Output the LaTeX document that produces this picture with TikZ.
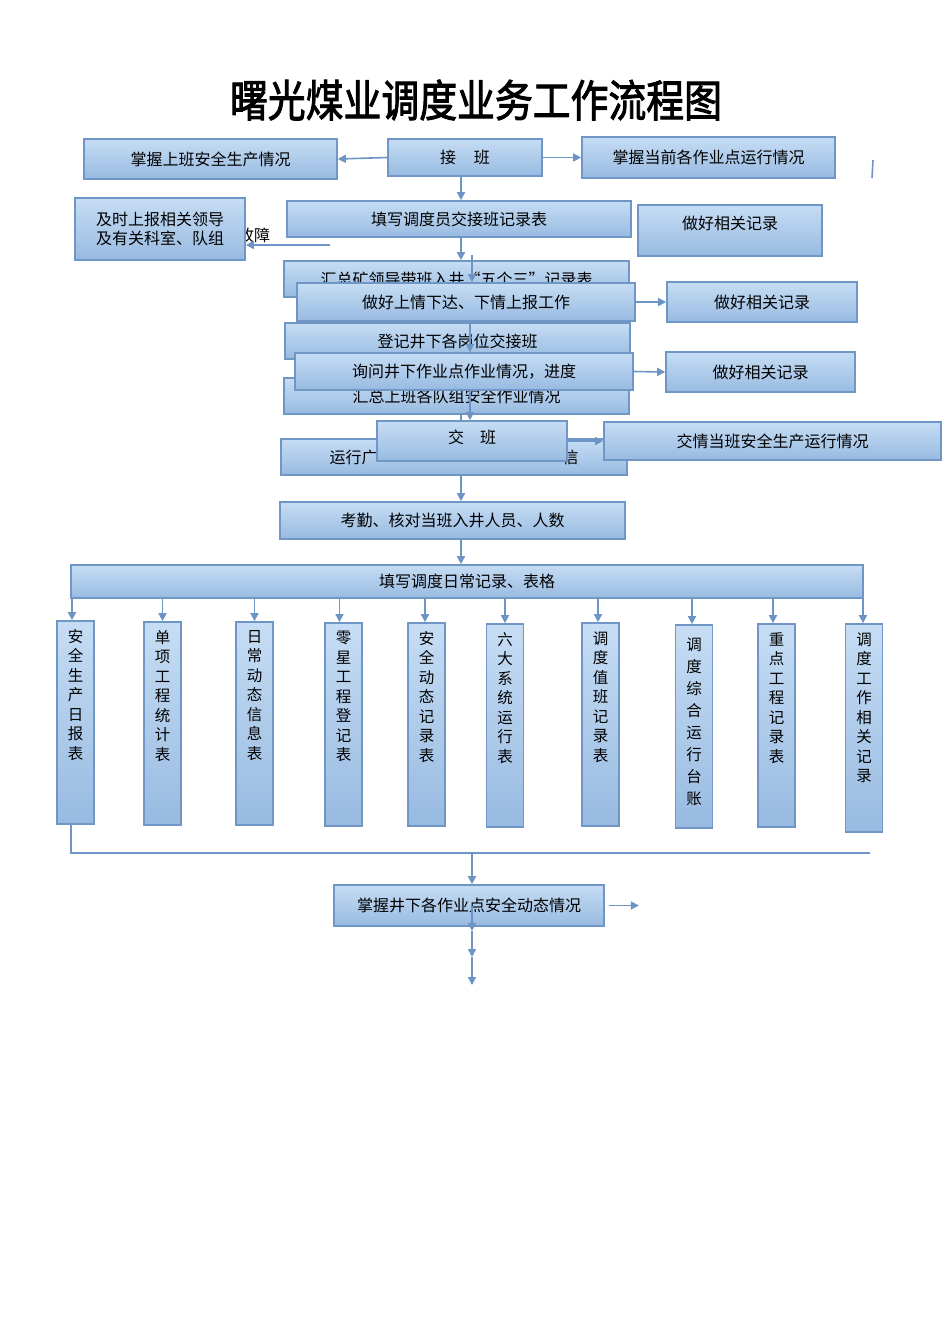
\documentclass[tikz,border=0pt]{standalone}
\usepackage{fontspec}
\newfontfamily\cjk{Noto Sans CJK SC}
\newfontfamily\cjkt[FakeBold=2.2]{Noto Sans CJK SC}
\usetikzlibrary{arrows.meta}
\definecolor{bdr}{RGB}{112,150,198}
\definecolor{acol}{RGB}{108,148,196}
\definecolor{ftop}{RGB}{198,221,244}
\definecolor{fbot}{RGB}{152,186,225}
\begin{document}
\begin{tikzpicture}[x=1pt,y=-1pt,
  box/.style={draw=bdr, line width=1.7pt, top color=ftop, bottom color=fbot, inner sep=0pt,
    font=\cjk\fontsize{16}{19}\selectfont},
  vbox/.style={box, minimum width=37pt, minimum height=203pt},
  vtxt/.style={anchor=north, yshift=-9pt, align=center, inner sep=0pt,
    font=\cjk\fontsize{15.5}{19.5}\selectfont},
  arr/.style={draw=acol, line width=1.6pt, -{Triangle[length=8pt,width=8pt]}},
  ln/.style={draw=acol, line width=1.6pt},
  plain/.style={inner sep=0pt, font=\cjk\fontsize{16}{19}\selectfont}]
\useasboundingbox[fill=white] (0,0) rectangle (950,1344);

% helper coordinates
\coordinate (c461) at (461,0);
\coordinate (c470) at (470,0);
\coordinate (c472) at (472,0);

% title
\node[inner sep=0pt, font=\cjkt\fontsize{44}{44}\selectfont] (title) at (476,100) {\resizebox{492pt}{\height}{曙光煤业调度业务工作流程图}};

% row 1
\node[box, minimum width=253pt, minimum height=40pt] (A) at (210.5,159) {掌握上班安全生产情况};
\node[box, minimum width=154pt, minimum height=37pt] (B) at (465,157.5) {接\hspace{1.1em}班};
\node[box, minimum width=253pt, minimum height=41pt] (C) at (708.5,157.5) {掌握当前各作业点运行情况};
\draw[arr] (B.west) -- (A.east);
\draw[arr] (B.east) -- (C.west);
\coordinate (s1) at (873,160);
\coordinate (s2) at (872,178);
\draw[ln] (s1) -- (s2);

% row 2
\node[plain] (gz) at (254,235) {故障};
\node[box, minimum width=170pt, minimum height=62pt, align=left] (D) at (160,229) {及时上报相关领导\\及有关科室、队组};
\coordinate (gstart) at (330,245);
\draw[arr] (gstart) -- (gstart -| D.east);
\node[box, minimum width=344pt, minimum height=36pt] (E) at (459,219) {填写调度员交接班记录表};
\node[box, minimum width=184pt, minimum height=51pt, text depth=16pt] (F) at (730,230.5) {做好相关记录};
\draw[arr] (B.south -| c461) -- (E.north -| c461);

% base chain
\node[box, minimum width=345pt, minimum height=36pt] (G) at (456.5,279) {汇总矿领导带班入井“五个三”记录表};
\node[box, minimum width=345pt, minimum height=36pt] (J) at (457.5,341) {登记井下各岗位交接班};
\node[box, minimum width=345pt, minimum height=36pt] (M) at (456.5,396) {汇总上班各队组安全作业情况};
\node[box, minimum width=346pt, minimum height=36pt] (O) at (454,457) {运行广\hspace{185pt}信};
\node[box, minimum width=345pt, minimum height=37pt] (Q) at (452.5,520.5) {考勤、核对当班入井人员、人数};
\node[box, minimum width=792pt, minimum height=33pt] (R) at (467,581.5) {填写调度日常记录、表格};
\draw[arr] (E.south -| c461) -- (G.north -| c461);
\draw[arr] (G.south -| c461) -- (J.north -| c461);
\draw[arr] (J.south -| c461) -- (M.north -| c461);
\draw[arr] (M.south -| c461) -- (O.north -| c461);
\draw[arr] (O.south -| c461) -- (Q.north -| c461);
\draw[arr] (Q.south -| c461) -- (R.north -| c461);

% overlay chain
\coordinate (ostart) at (472,255);
\node[box, minimum width=338pt, minimum height=38pt] (H) at (466,302) {做好上情下达、下情上报工作};
\draw[arr] (ostart) -- (H.north -| c472);
\node[box, minimum width=190pt, minimum height=40pt] (I) at (762,302) {做好相关记录};
\draw[arr] (H.east) -- (I.west);
\node[box, minimum width=338pt, minimum height=37pt] (K) at (464,371.5) {询问井下作业点作业情况，进度};
\draw[arr] (H.south -| c470) -- (K.north -| c470);
\node[box, minimum width=189pt, minimum height=40pt] (L) at (760.5,372) {做好相关记录};
\draw[arr] (K.east) -- (L.west);
\node[box, minimum width=190pt, minimum height=40pt, text depth=8pt] (N) at (472,441) {交\hspace{1em}班};
\draw[arr] (K.south -| c470) -- (N.north -| c470);
\node[box, minimum width=337pt, minimum height=38pt] (P) at (772.5,441) {交情当班安全生产运行情况};
\draw[arr] (N.east) -- (P.west);

% vertical boxes
\node[vbox, label={[vtxt]north:安\\全\\生\\产\\日\\报\\表}] (v1) at (75.5,722.5) {};
\node[vbox, label={[vtxt]north:单\\项\\工\\程\\统\\计\\表}] (v2) at (162.5,723.5) {};
\node[vbox, label={[vtxt]north:日\\常\\动\\态\\信\\息\\表}] (v3) at (254.5,723.5) {};
\node[vbox, label={[vtxt]north:零\\星\\工\\程\\登\\记\\表}] (v4) at (343.5,724.5) {};
\node[vbox, label={[vtxt]north:安\\全\\动\\态\\记\\录\\表}] (v5) at (426.5,724.5) {};
\node[vbox, label={[vtxt]north:六\\大\\系\\统\\运\\行\\表}] (v6) at (505,725.5) {};
\node[vbox, label={[vtxt]north:调\\度\\值\\班\\记\\录\\表}] (v7) at (600.5,724.5) {};
\node[vbox, label={[vtxt, yshift=-4pt, font=\cjk\fontsize{15.5}{22}\selectfont]north:调\\度\\综\\合\\运\\行\\台\\账}] (v8) at (694,726.5) {};
\node[vbox, label={[vtxt]north:重\\点\\工\\程\\记\\录\\表}] (v9) at (776.5,725.5) {};
\node[vbox, minimum height=208pt, label={[vtxt]north:调\\度\\工\\作\\相\\关\\记\\录}] (v10) at (864,728) {};
\foreach \v/\dx in {v1/-3.5,v2/0,v3/0,v4/-4,v5/-1.5,v6/0,v7/-2.5,v8/-2,v9/-3.5,v10/-1}{
  \draw[arr] ([xshift=\dx pt]R.south -| \v.north) -- ([xshift=\dx pt]\v.north);
}

% bottom
\coordinate (hl1) at (71,853);
\coordinate (hl2) at (870,853);
\draw[ln] (v1.south -| hl1) -- (hl1) -- (hl2);
\node[box, minimum width=270pt, minimum height=41pt] (S) at (469,905.5) {掌握井下各作业点安全动态情况};
\draw[arr] (hl1 -| c472) -- (S.north -| c472);
\draw[arr] ([xshift=4pt]S.east) -- ++(30,0);
\coordinate (t1) at (472,931);
\coordinate (t2) at (472,957);
\coordinate (t3) at (472,985);
\draw[arr] (S.center -| c472) -- (t1);
\draw[arr] (t1) -- (t2);
\draw[arr] (t2) -- (t3);
\end{tikzpicture}
\end{document}
